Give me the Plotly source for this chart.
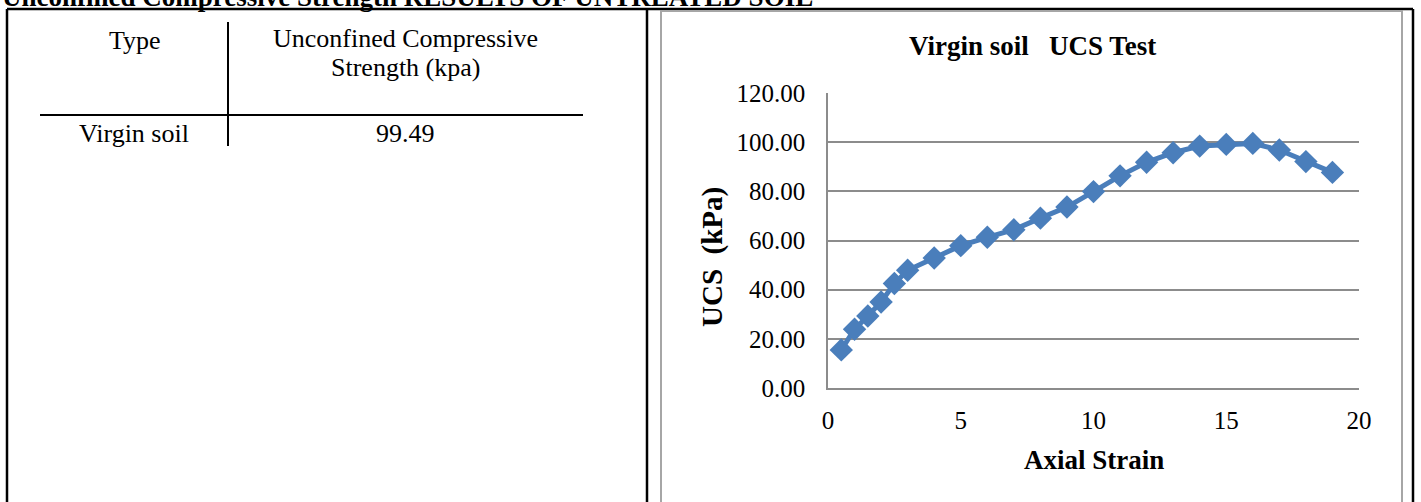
import plotly.graph_objects as go

W, H = 1421, 502

# ---- data ----
strain = [0.5, 1, 1.5, 2, 2.5, 3, 4, 5, 6, 7, 8, 9, 10, 11, 12, 13, 14, 15, 16, 17, 18, 19]
ucs = [15.5, 23.9, 29.3, 35.0, 42.5, 47.9, 52.9, 57.9, 61.3, 64.4, 69.1, 73.6,
       79.9, 86.3, 91.8, 95.7, 98.4, 99.1, 99.49, 96.8, 92.1, 87.7]
y_ticks = [0, 20, 40, 60, 80, 100, 120]
x_ticks = [0, 5, 10, 15, 20]
table_header = ["Type", "Unconfined Compressive", "Strength (kpa)"]
table_row = ["Virgin soil", "99.49"]
page_heading = "Unconfined Compressive Strength RESULTS OF UNTREATED SOIL"
chart_title = "Virgin soil   UCS Test"
x_title = "Axial Strain"
y_title = "UCS  (kPa)"

SERIF = "Liberation Serif, Times New Roman, serif"


def px(x):
    return x / W


def py(y):
    return 1 - y / H


fig = go.Figure()
fig.add_trace(go.Scatter(
    x=strain, y=ucs, mode="lines+markers",
    line=dict(color="#4A7EBB", width=5),
    marker=dict(symbol="diamond", size=18, color="#4A7EBB"),
    showlegend=False, hoverinfo="skip",
))

grid_col = "#8c8c8c"
fig.update_layout(
    template="none",
    width=W, height=H,
    margin=dict(l=0, r=0, t=0, b=0, pad=0),
    paper_bgcolor="white", plot_bgcolor="white",
    font=dict(family=SERIF, color="black", size=24),
    xaxis=dict(
        domain=[px(828), px(1359)], range=[0, 20], tickvals=x_ticks,
        showgrid=False, zeroline=False, showline=True, linecolor=grid_col,
        linewidth=1.5, ticks="", ticklabelstandoff=9, automargin=False,
        tickfont=dict(family=SERIF, size=25, color="black"),
    ),
    yaxis=dict(
        domain=[py(388), py(93)], range=[0, 120], tickvals=y_ticks,
        tickformat=".2f", showgrid=True, gridcolor=grid_col, gridwidth=1.5,
        zeroline=False, showline=True, linecolor=grid_col, linewidth=1.5,
        ticks="", ticklabelstandoff=16, automargin=False,
        tickfont=dict(family=SERIF, size=25, color="black"),
    ),
)

ann = []


def text(t, x, y, size, angle=0):
    ann.append(dict(text=t, x=px(x), y=py(y), xref="paper", yref="paper",
                    xanchor="center", yanchor="middle", showarrow=False,
                    textangle=angle, font=dict(family=SERIF, size=size, color="black")))


# page heading (cut off at the top)
ann.append(dict(text="<b>" + page_heading + "</b>", x=px(0), y=py(-3),
                xref="paper", yref="paper", xanchor="left", yanchor="middle",
                showarrow=False, font=dict(family=SERIF, size=27, color="black")))
# table
text(table_header[0], 135, 40, 26)
text(table_header[1], 405, 38, 26)
text(table_header[2], 405, 67, 26)
text(table_row[0], 134, 133, 26)
text(table_row[1], 405, 133, 26)
# chart titles
text("<b>" + chart_title + "</b>", 1032, 46, 27)
text("<b>" + x_title + "</b>", 1094, 460, 27)
text("<b>" + y_title + "</b>", 712, 257, 29, -90)
fig.update_layout(annotations=ann)

shapes = []


def line(x0, y0, x1, y1, color="black", width=2):
    shapes.append(dict(type="line", xref="paper", yref="paper",
                       x0=px(x0), y0=py(y0), x1=px(x1), y1=py(y1),
                       line=dict(color=color, width=width)))


# outer table frame
line(7, 9, 1413, 9, width=2.5)
line(7, 9, 7, 510, width=2.5)
line(647, 9, 647, 510, width=2.5)
line(1413, 9, 1413, 510, width=2.5)
# chart area border
shapes.append(dict(type="rect", xref="paper", yref="paper",
                   x0=px(661), y0=py(515), x1=px(1402), y1=py(11),
                   line=dict(color="#a6a6a6", width=2)))
# inner table rules
line(228, 22, 228, 146, width=2)
line(40, 115, 583, 115, width=2)
fig.update_layout(shapes=shapes)

fig.write_html("out.html")
